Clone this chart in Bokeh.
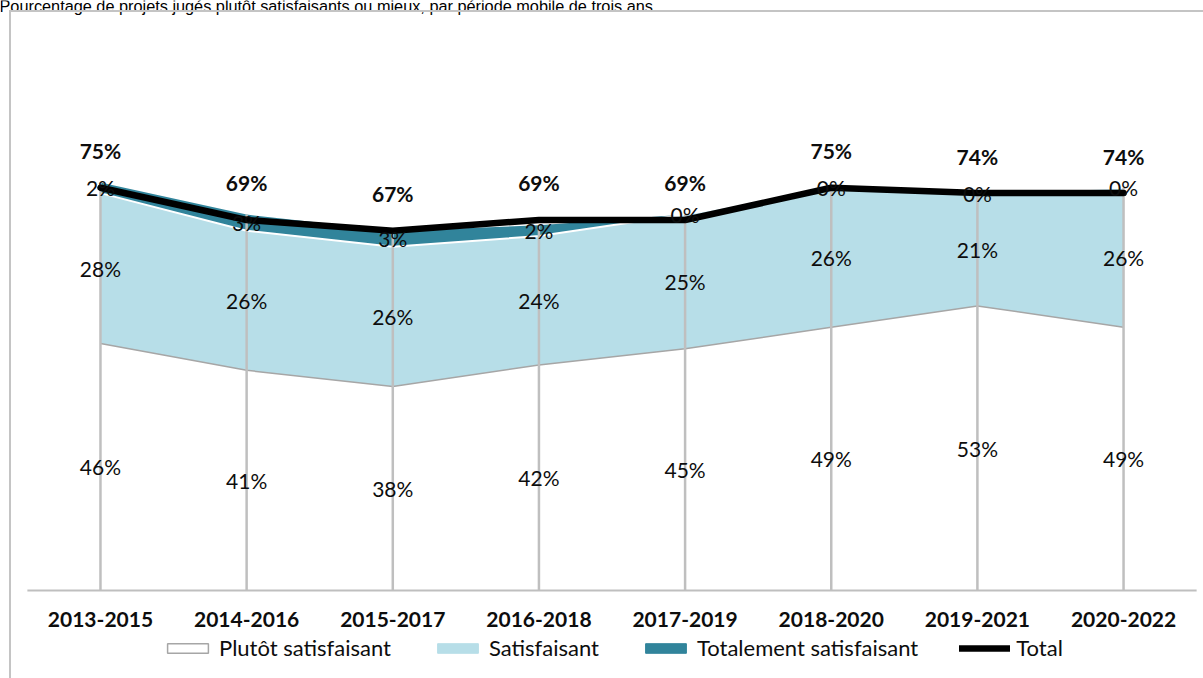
import numpy as np
from bokeh.plotting import figure
from bokeh.models import (Range1d, Legend, LegendItem, Label, FixedTicker,
                          InlineStyleSheet)
from bokeh.core.properties import value
from bokeh.embed import file_html
from bokeh.resources import INLINE

# Rolling three-year periods and the share of projects per rating level (%)
periods = ["2013-2015", "2014-2016", "2015-2017", "2016-2018",
           "2017-2019", "2018-2020", "2019-2021", "2020-2022"]
plutot = [46, 41, 38, 42, 45, 49, 53, 49]
satisfaisant = [28, 26, 26, 24, 25, 26, 21, 26]
totalement = [2, 3, 3, 2, 0, 0, 0, 0]
total = [75, 69, 67, 69, 69, 75, 74, 74]

series_names = ["Plutôt satisfaisant", "Satisfaisant",
                "Totalement satisfaisant", "Total"]
title_text = ("Pourcentage de projets jugés plutôt satisfaisants ou mieux, "
              "par période mobile de trois ans")

LIGHT_BLUE = "#B7DEE8"
TEAL = "#31849B"
GREY = "#BFBFBF"
TEXT = "#0D0D0D"
FONT = "Lato"

W, H = 1203, 678

# one slot per period on the x scale
xs = np.arange(len(periods))
n = len(periods)

# cumulative stack boundaries
s1 = np.array(plutot, dtype=float)
s2 = s1 + np.array(satisfaisant)
s3 = s2 + np.array(totalement)

# the plotting frame fills the whole canvas; the ranges leave room for
# the title, the period labels and the legend around the data
p = figure(x_range=Range1d(-0.684, n - 1 + 0.547),
           y_range=Range1d(-16.39, 109.87),
           width=W, height=H, output_backend="svg",
           toolbar_location=None, y_axis_location=None,
           min_border=0)
p.outline_line_color = None
p.grid.grid_line_color = None
p.background_fill_color = "white"
p.border_fill_color = "white"

# light frame around the chart area (left and top edges only are in view)
p.stylesheets = [InlineStyleSheet(css="""
:host { position: relative; }
:host::after {
  content: "";
  position: absolute;
  left: 9px; top: 10px; right: 0; bottom: 0;
  border-left: 2px solid #C4C4C4;
  border-top: 2px solid #C4C4C4;
  pointer-events: none;
}
""")]

# stacked areas
p.varea(x=xs, y1=0, y2=s1, fill_color="white")
p.varea(x=xs, y1=s1, y2=s2, fill_color=LIGHT_BLUE)
p.varea(x=xs, y1=s2, y2=s3, fill_color=TEAL)
p.line(x=xs, y=s1, line_color="#A6A6A6", line_width=1.5)
p.line(x=xs, y=s2, line_color="white", line_width=2)

# drop lines from the top of the stack to the axis
p.segment(x0=xs, y0=0, x1=xs, y1=s3, line_color=GREY, line_width=2.5)

# category baseline spanning the period slots
p.segment(x0=[-0.5], y0=[0], x1=[n - 0.5], y1=[0], line_color=GREY,
          line_width=2)

# total line
total_r = p.line(x=xs, y=total, line_color="black", line_width=6.5,
                 line_join="round", line_cap="round")

# value labels
def pct(vals):
    return [f"{v}%" for v in vals]

label_kw = dict(text_font=value(FONT), text_font_size="21px",
                text_color=TEXT, text_align="center", text_baseline="middle")
p.text(x=xs, y=s1 / 2, text=pct(plutot), **label_kw)
p.text(x=xs, y=(s1 + s2) / 2, text=pct(satisfaisant), **label_kw)
p.text(x=xs, y=(s2 + s3) / 2, text=pct(totalement), **label_kw)
p.text(x=xs, y=total, text=pct(total), y_offset=-37,
       text_font_style="bold", **label_kw)

# period axis, pinned at y = 0
ax = p.xaxis[0]
ax.fixed_location = 0
ax.ticker = FixedTicker(ticks=list(xs))
ax.major_label_overrides = {int(i): lab for i, lab in zip(xs, periods)}
ax.axis_line_color = None
ax.major_tick_line_color = None
ax.minor_tick_line_color = None
ax.major_label_standoff = 16
ax.major_label_text_font = FONT
ax.major_label_text_font_size = "21px"
ax.major_label_text_font_style = "bold"
ax.major_label_text_color = TEXT

# hidden proxies that only supply the legend swatches
def swatch(fill, line, lw=1.0):
    return p.quad(left=[0], right=[0], top=[0], bottom=[0],
                  fill_color=fill, line_color=line, line_width=lw,
                  visible=False)

sw1 = swatch("white", "#A6A6A6", 1.5)
sw2 = swatch(LIGHT_BLUE, LIGHT_BLUE)
sw3 = swatch(TEAL, TEAL)
legend = Legend(items=[LegendItem(label=series_names[0], renderers=[sw1]),
                       LegendItem(label=series_names[1], renderers=[sw2]),
                       LegendItem(label=series_names[2], renderers=[sw3]),
                       LegendItem(label=series_names[3], renderers=[total_r])],
                orientation="horizontal", location=(162, 17),
                glyph_width=51, glyph_height=12, label_standoff=6,
                spacing=41, padding=0, margin=0,
                label_text_font=FONT, label_text_font_size="22px",
                label_text_color=TEXT, border_line_color=None,
                background_fill_alpha=0)
p.add_layout(legend, "center")

# chart title
p.add_layout(Label(x=-1, y=H - 5.5, x_units="screen", y_units="screen",
                   text=title_text, text_font="Liberation Sans",
                   text_font_size="16.3px", text_color="black",
                   text_baseline="alphabetic"))

open("out.html", "w").write(file_html(p, INLINE))
